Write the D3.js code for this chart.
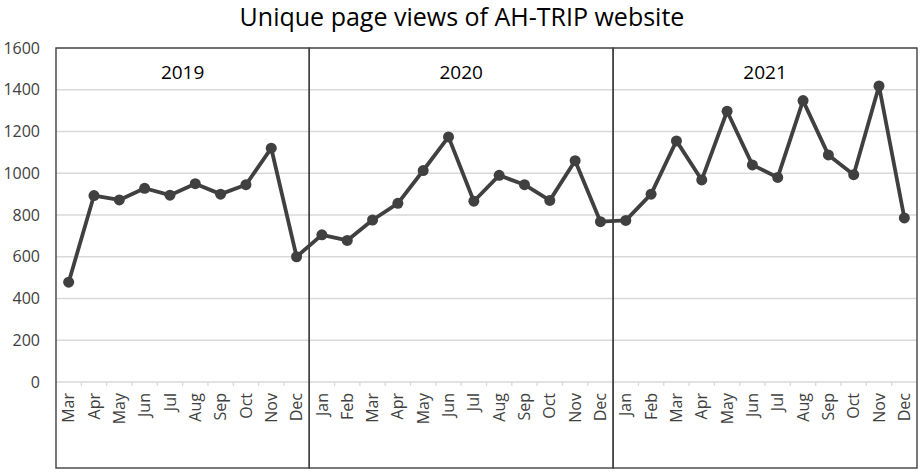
<!DOCTYPE html>
<html>
<head>
<meta charset="utf-8">
<title>Unique page views of AH-TRIP website</title>
<script src="https://d3js.org/d3.v7.min.js"></script>
<style>
  body { margin: 0; background: #fff; }
  text { font-family: "Open Sans", sans-serif; }
</style>
</head>
<body>
<div id="chart"></div>
<script>
// data
const years = ["2019", "2020", "2021"];
const months2019 = ["Mar", "Apr", "May", "Jun", "Jul", "Aug", "Sep", "Oct", "Nov", "Dec"];
const months2020 = ["Jan", "Feb", "Mar", "Apr", "May", "Jun", "Jul", "Aug", "Sep", "Oct", "Nov", "Dec"];
const months2021 = ["Jan", "Feb", "Mar", "Apr", "May", "Jun", "Jul", "Aug", "Sep", "Oct", "Nov", "Dec"];
const views2019 = [478, 893, 872, 928, 895, 950, 900, 945, 1120, 600];
const views2020 = [705, 678, 776, 856, 1013, 1174, 866, 990, 945, 870, 1060, 768];
const views2021 = [774, 900, 1155, 968, 1297, 1040, 980, 1348, 1088, 993, 1418, 786];
const yTicks = [0, 200, 400, 600, 800, 1000, 1200, 1400, 1600];

const groups = [
  {year: years[0], months: months2019, values: views2019},
  {year: years[1], months: months2020, values: views2020},
  {year: years[2], months: months2021, values: views2021}
];

// flat table for drawing
let rows = [];
groups.forEach(g => {
  g.months.forEach((m, i) => rows.push({key: g.year + "-" + m, month: m, year: g.year, value: g.values[i]}));
});

let W = 921, H = 476;
let margin = {top: 48, right: 4, bottom: 8, left: 56};
let axisY = 382;          // y position of the 0 line
let w = W - margin.left - margin.right;

let svg = d3.select("#chart").append("svg")
  .attr("width", W).attr("height", H);

let x = d3.scaleBand()
  .domain(rows.map(d => d.key))
  .range([margin.left, margin.left + w]);

let y = d3.scaleLinear()
  .domain([0, 1600])
  .range([axisY, margin.top]);

// gridlines
svg.append("g")
  .selectAll("line")
  .data(yTicks.slice(1))
  .enter().append("line")
  .attr("x1", margin.left).attr("x2", margin.left + w)
  .attr("y1", d => y(d)).attr("y2", d => y(d))
  .attr("stroke", "#d9d9d9").attr("stroke-width", 1.3);

// y axis labels
let yAxis = d3.axisLeft(y).tickValues(yTicks).tickSize(0).tickPadding(16).tickFormat(d3.format("d"));
svg.append("g")
  .attr("transform", "translate(" + margin.left + ",0)")
  .call(yAxis)
  .call(g => g.select(".domain").remove())
  .selectAll("text")
  .attr("font-size", "16px")
  .attr("fill", "#404040")
  .style("font-family", "'Open Sans', sans-serif");

// x axis line
svg.append("line")
  .attr("x1", margin.left).attr("x2", margin.left + w)
  .attr("y1", axisY).attr("y2", axisY)
  .attr("stroke", "#d9d9d9").attr("stroke-width", 1.3);

// small ticks between categories
svg.append("g")
  .selectAll("line")
  .data(rows.slice(1))
  .enter().append("line")
  .attr("x1", d => x(d.key)).attr("x2", d => x(d.key))
  .attr("y1", axisY).attr("y2", axisY + 4)
  .attr("stroke", "#d9d9d9").attr("stroke-width", 1.3);

// month labels
let xAxis = d3.axisBottom(x).tickSize(0).tickFormat(k => k.split("-")[1]);
svg.append("g")
  .attr("transform", "translate(0," + axisY + ")")
  .call(xAxis)
  .call(g => g.select(".domain").remove())
  .selectAll("text")
  .attr("transform", "rotate(-90)")
  .attr("x", -11).attr("y", 0).attr("dy", "0.35em")
  .style("text-anchor", "end")
  .attr("font-size", "16px")
  .attr("fill", "#404040")
  .style("font-family", "'Open Sans', sans-serif");

// year boxes
let frameBottom = H - margin.bottom;
groups.forEach(g => {
  let first = x(g.year + "-" + g.months[0]);
  let last = x(g.year + "-" + g.months[g.months.length - 1]) + x.bandwidth();
  svg.append("rect")
    .attr("x", first).attr("y", margin.top)
    .attr("width", last - first).attr("height", frameBottom - margin.top)
    .attr("fill", "none").attr("stroke", "#404040").attr("stroke-width", 1.4);
  svg.append("text")
    .attr("x", (first + last) / 2).attr("y", 79)
    .attr("text-anchor", "middle")
    .attr("font-size", "19px")
    .attr("fill", "#000")
    .text(g.year);
});

// line + markers
let line = d3.line()
  .x(d => x(d.key) + x.bandwidth() / 2)
  .y(d => y(d.value));

svg.append("path")
  .datum(rows)
  .attr("d", line)
  .attr("fill", "none")
  .attr("stroke", "#404040")
  .attr("stroke-width", 3.8)
  .attr("stroke-linejoin", "round");

svg.append("g")
  .selectAll("circle")
  .data(rows)
  .enter().append("circle")
  .attr("cx", d => x(d.key) + x.bandwidth() / 2)
  .attr("cy", d => y(d.value))
  .attr("r", 5.5)
  .attr("fill", "#404040");

// title
svg.append("text")
  .attr("x", 462).attr("y", 26)
  .attr("text-anchor", "middle")
  .attr("font-size", "25px")
  .attr("fill", "#000")
  .text("Unique page views of AH-TRIP website");
</script>
</body>
</html>
